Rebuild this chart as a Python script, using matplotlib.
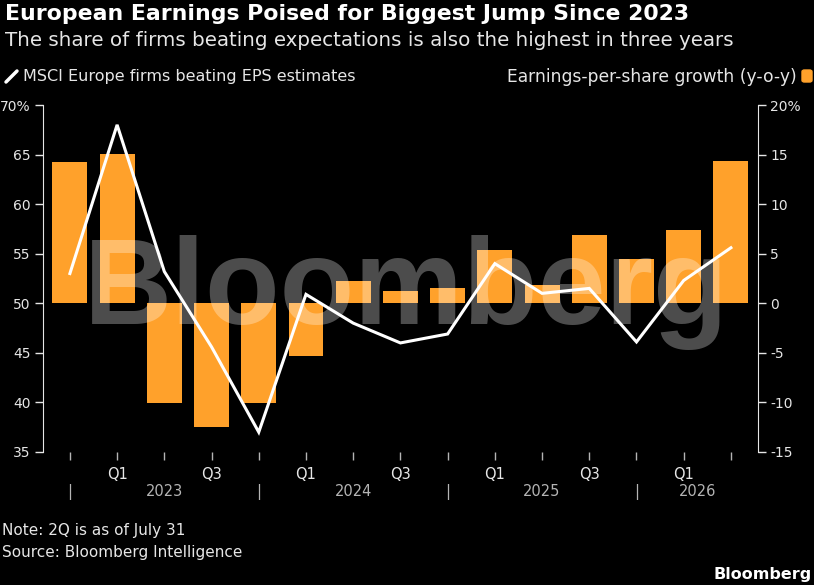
import matplotlib
matplotlib.use("Agg")
import matplotlib.pyplot as plt
import matplotlib.transforms as mtransforms
from matplotlib.patches import FancyBboxPatch
from matplotlib.lines import Line2D

# Data
quarters = ["Q4 22", "Q1 23", "Q2 23", "Q3 23", "Q4 23", "Q1 24", "Q2 24", "Q3 24",
            "Q4 24", "Q1 25", "Q2 25", "Q3 25", "Q4 25", "Q1 26", "Q2 26"]
eps_growth = [14.3, 15.1, -10.1, -12.5, -10.1, -5.3, 2.2, 1.2,
              1.5, 5.4, 1.8, 6.9, 4.5, 7.4, 14.4]
beat_share = [53.0, 68.0, 53.2, 45.6, 37.0, 50.9, 48.0, 46.0,
              46.9, 54.0, 51.0, 51.5, 46.1, 52.3, 55.6]
tick_labels = ["", "Q1", "", "Q3", "", "Q1", "", "Q3", "", "Q1", "", "Q3", "", "Q1", ""]
year_labels = ["2023", "2024", "2025", "2026"]
year_label_pos = [2, 6, 10, 13.3]
year_sep_pos = [0, 4, 8, 12]

BG = "#000000"
ORANGE = "#FFA12B"
TXT = "#E6E6E6"
GREY = "#B4B4B4"

plt.rcParams["font.family"] = ["DejaVu Sans"]

fig = plt.figure(figsize=(8.14, 5.85), dpi=100, facecolor=BG)
ax2 = fig.add_axes([0.0528, 0.2274, 0.8782, 0.5931])
ax = ax2.twinx()
# line axis on left, bars on right
ax.yaxis.tick_left()
ax2.yaxis.tick_right()
ax.set_zorder(ax2.get_zorder() + 1)
ax.patch.set_visible(False)
ax2.set_facecolor(BG)

x = list(range(len(quarters)))
ax2.bar(x, eps_growth, width=0.74, color=ORANGE, zorder=2)
ax.plot(x, beat_share, color="white", lw=2.2, solid_joinstyle="miter", zorder=3)

ax.set_xlim(-0.57, 14.57)
ax.set_ylim(35, 70)
ax2.set_ylim(-15, 20)

ax.set_yticks(range(35, 71, 5))
ax.set_yticklabels([str(v) if v != 70 else "70%" for v in range(35, 71, 5)])
ax2.set_yticks(range(-15, 21, 5))
ax2.set_yticklabels([str(v) if v != 20 else "20%" for v in range(-15, 21, 5)])

for a in (ax, ax2):
    for s in a.spines.values():
        s.set_visible(False)
    a.tick_params(axis="y", colors=TXT, labelsize=10, length=6, width=1, pad=3)
ax.spines["left"].set_visible(True)
ax.spines["left"].set_color(TXT)
ax2.spines["right"].set_visible(True)
ax2.spines["right"].set_color(TXT)
ax.tick_params(axis="y", labelleft=True, labelright=False, left=True, right=False)
ax2.tick_params(axis="y", labelleft=False, labelright=True, left=False, right=True)

ax2.set_xticks(x)
ax2.set_xticklabels(tick_labels)
ax2.tick_params(axis="x", colors=GREY, labelcolor=TXT, labelsize=10.5, length=6, width=1, pad=5)
ax.tick_params(axis="x", bottom=False, labelbottom=False)

trans = mtransforms.blended_transform_factory(ax2.transData, fig.transFigure)
for p in year_sep_pos:
    ax2.text(p, 1 - 492 / 585, "|", transform=trans, ha="center", va="center",
             color=GREY, fontsize=11, clip_on=False)
for p, lab in zip(year_label_pos, year_labels):
    ax2.text(p, 1 - 492 / 585, lab, transform=trans, ha="center", va="center",
             color=GREY, fontsize=10.5, clip_on=False)

# watermark
fig.text(0.4995, 1 - 293 / 585, "Bloomberg", ha="center", va="center", color="white",
         alpha=0.3, fontsize=88, fontweight="bold", family="Liberation Sans", zorder=10)

# titles
fig.text(0.006, 1 - 14 / 585, "European Earnings Poised for Biggest Jump Since 2023",
         ha="left", va="center", color="white", fontsize=15.85, fontweight="bold")
fig.text(0.006, 1 - 40 / 585, "The share of firms beating expectations is also the highest in three years",
         ha="left", va="center", color=TXT, fontsize=14.3)

# legend
fig.add_artist(Line2D([6 / 814, 17 / 814], [1 - 82 / 585, 1 - 71 / 585],
                      color="white", lw=2.5, solid_capstyle="round"))
fig.text(23 / 814, 1 - 77 / 585, "MSCI Europe firms beating EPS estimates",
         ha="left", va="center", color=TXT, fontsize=11.5)
fig.text(797 / 814, 1 - 77 / 585, "Earnings-per-share growth (y-o-y)",
         ha="right", va="center", color=TXT, fontsize=12.3)
fig.patches.append(FancyBboxPatch((802 / 814, 1 - 82 / 585), 10 / 814, 12 / 585,
                                  boxstyle="round,pad=0,rounding_size=0.003",
                                  transform=fig.transFigure, color=ORANGE))

# footer
fig.text(0.003, 1 - 531 / 585, "Note: 2Q is as of July 31", ha="left", va="center",
         color=TXT, fontsize=11)
fig.text(0.003, 1 - 553 / 585, "Source: Bloomberg Intelligence", ha="left", va="center",
         color=TXT, fontsize=11)
fig.text(0.997, 1 - 574 / 585, "Bloomberg", ha="right", va="center", color="white",
         fontsize=11.5, fontweight="bold")

fig.savefig("out.png", dpi=100, facecolor=BG)
